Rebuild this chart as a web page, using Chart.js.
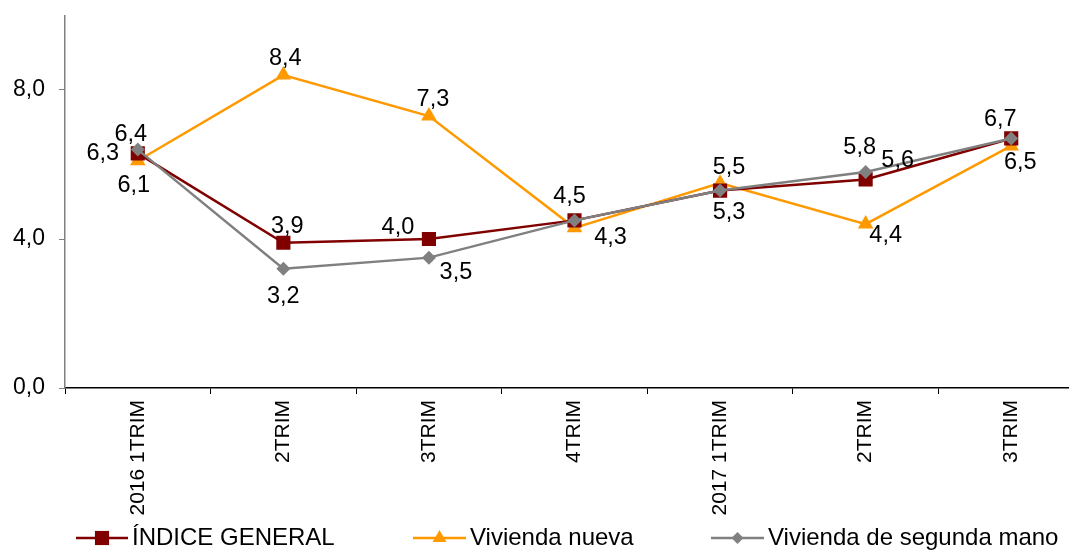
<!DOCTYPE html>
<html>
<head>
<meta charset="utf-8">
<script src="https://cdn.jsdelivr.net/npm/chart.js@4/dist/chart.umd.min.js"></script>
<style>
    html, body { margin: 0; padding: 0; background: #fff; overflow: hidden; }
    #wrap { width: 1069px; height: 550px; overflow: hidden; }
</style>
</head>
<body>
<div id="wrap"><canvas id="chart" width="1094" height="550"></canvas></div>
<script>
// Chart data
const categories = ['2016 1TRIM', '2TRIM', '3TRIM', '4TRIM', '2017 1TRIM', '2TRIM', '3TRIM'];
const indiceGeneral = [6.3, 3.9, 4.0, 4.5, 5.3, 5.6, 6.7];
const viviendaNueva = [6.1, 8.4, 7.3, 4.3, 5.5, 4.4, 6.5];
const viviendaSegunda = [6.4, 3.2, 3.5, 4.5, 5.3, 5.8, 6.7];
const yTicks = [0, 4, 8];

// where each value label sits relative to its point (null = no label)
const labelOffsets = [
    [[-35, 0], [4, -16], [-31, -11], [-5, -24], [9, 22], [32, -19], [-11, -19]],
    [[-4, 25], [2, -17], [4, -17], [36, 10], [9, -16], [20, 11], [9, 17]],
    [[-7, -15], [0, 28], [27, 15], null, null, [-6, -24], null]
];

// legend entries: left end of the sample line and its length
const legendItems = [
    { x: 76, w: 52 },
    { x: 413, w: 53 },
    { x: 711, w: 53 }
];

const FONT = '"Liberation Sans", Arial, sans-serif';
const fmt = v => v.toFixed(1).replace('.', ',');

// value labels drawn next to the points
const valueLabels = {
    id: 'valueLabels',
    afterDatasetsDraw(chart) {
        const ctx = chart.ctx;
        ctx.save();
        ctx.font = '23.5px ' + FONT;
        ctx.fillStyle = '#000';
        ctx.textAlign = 'center';
        ctx.textBaseline = 'middle';
        chart.data.datasets.forEach((ds, i) => {
            const meta = chart.getDatasetMeta(i);
            meta.data.forEach((pt, j) => {
                const off = labelOffsets[i][j];
                if (!off) return;
                ctx.fillText(fmt(ds.data[j]), pt.x + off[0], pt.y + off[1]);
            });
        });
        ctx.restore();
    }
};

// legend with a line + marker sample, like the original
const lineLegend = {
    id: 'lineLegend',
    afterDraw(chart) {
        const ctx = chart.ctx;
        const y = 538;
        ctx.save();
        legendItems.forEach((it, i) => {
            const ds = chart.data.datasets[i];
            ctx.strokeStyle = ds.borderColor;
            ctx.lineWidth = ds.borderWidth;
            ctx.beginPath();
            ctx.moveTo(it.x, y);
            ctx.lineTo(it.x + it.w, y);
            ctx.stroke();
            ctx.fillStyle = ds.backgroundColor;
            Chart.helpers.drawPoint(ctx, { pointStyle: ds.pointStyle, radius: ds.legendRadius, borderWidth: 0 }, it.x + it.w / 2, y);
            ctx.fillStyle = '#000';
            ctx.font = '24px ' + FONT;
            ctx.textAlign = 'left';
            ctx.textBaseline = 'middle';
            ctx.fillText(ds.label, it.x + it.w + 4, y);
        });
        ctx.restore();
    }
};

const config = {
    type: 'line',
    data: {
        labels: categories,
        datasets: [
            {
                label: 'ÍNDICE GENERAL',
                data: indiceGeneral,
                borderColor: '#800000',
                backgroundColor: '#800000',
                borderWidth: 2.5,
                pointStyle: 'rect',
                pointRadius: 10,
                legendRadius: 10,
                pointBorderWidth: 0,
                order: 1
            },
            {
                label: 'Vivienda nueva',
                data: viviendaNueva,
                borderColor: '#FF9900',
                backgroundColor: '#FF9900',
                borderWidth: 2.5,
                pointStyle: 'triangle',
                pointRadius: 9,
                legendRadius: 8,
                pointBorderWidth: 0,
                order: 2
            },
            {
                label: 'Vivienda de segunda mano',
                data: viviendaSegunda,
                borderColor: '#808080',
                backgroundColor: '#808080',
                borderWidth: 2.5,
                pointStyle: 'rectRot',
                pointRadius: 7,
                legendRadius: 6,
                pointBorderWidth: 0,
                order: 0
            }
        ]
    },
    options: {
        responsive: false,
        animation: false,
        layout: { padding: { top: 15.5, right: 7, left: 0, bottom: 0 } },
        plugins: {
            legend: { display: false },
            tooltip: { enabled: false }
        },
        scales: {
            x: {
                offset: true,
                grid: { offset: true, drawOnChartArea: false, color: '#000', tickLength: 6 },
                border: { color: '#000', width: 1.5 },
                ticks: {
                    minRotation: 90,
                    maxRotation: 90,
                    padding: 6,
                    color: '#000',
                    font: { family: FONT, size: 21 }
                },
                afterFit: s => {
                    s.height = 162;
                    s.paddingLeft = 0;
                    s.paddingRight = 0;
                }
            },
            y: {
                min: 0,
                max: 10,
                afterBuildTicks: s => { s.ticks = yTicks.map(v => ({ value: v })); },
                grid: { drawOnChartArea: false, color: '#808080', tickLength: 6 },
                border: { color: '#808080', width: 1.5 },
                ticks: {
                    padding: 14,
                    color: '#000',
                    font: { family: FONT, size: 23 },
                    callback: v => fmt(v)
                },
                afterFit: s => {
                    s.width = 65;
                    s.paddingTop = 0;
                    s.paddingBottom = 0;
                }
            }
        }
    },
    plugins: [valueLabels, lineLegend]
};

new Chart(document.getElementById('chart'), config);
</script>
</body>
</html>
